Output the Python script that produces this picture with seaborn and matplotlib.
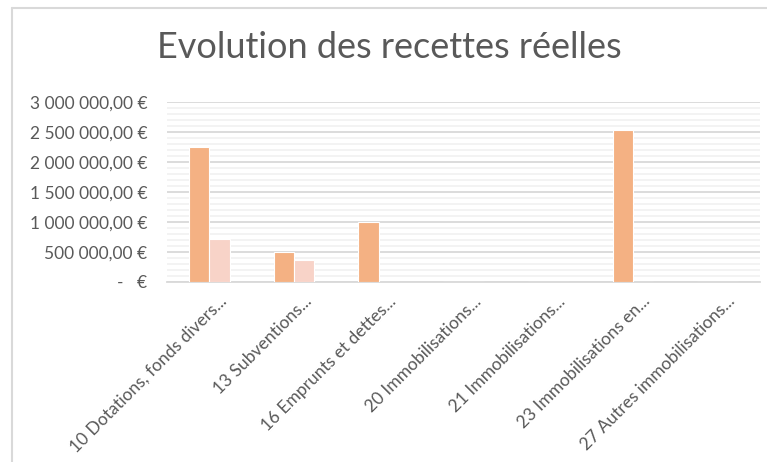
import matplotlib
matplotlib.use("Agg")
import matplotlib.pyplot as plt
import matplotlib.transforms as mtransforms
from matplotlib.lines import Line2D
from matplotlib.ticker import FuncFormatter, MultipleLocator
import pandas as pd
import seaborn as sns

# data
categories = [
    "10 Dotations, fonds divers...",
    "13 Subventions...",
    "16 Emprunts et dettes...",
    "20 Immobilisations...",
    "21 Immobilisations...",
    "23 Immobilisations en...",
    "27 Autres immobilisations...",
]
serie_1 = [2250000, 495000, 995000, 0, 0, 2530000, 0]
serie_2 = [717000, 360000, 0, 0, 0, 0, 0]
series_names = ["Série 1", "Série 2"]
colors = ["#F4B183", "#F8D3C8"]

df = pd.DataFrame({
    "categorie": categories * 2,
    "montant": serie_1 + serie_2,
    "serie": [series_names[0]] * len(categories) + [series_names[1]] * len(categories),
})

sns.set_style("white")
plt.rcParams["font.family"] = ["Lato", "DejaVu Sans"]

fig = plt.figure(figsize=(7.67, 4.62), dpi=100)
ax = fig.add_axes([167 / 767, 1 - 282 / 462, (760 - 167) / 767, 180 / 462])

sns.barplot(data=df, x="categorie", y="montant", hue="serie", palette=colors,
            saturation=1, width=0.48, edgecolor="white", linewidth=0.8,
            legend=False, ax=ax, zorder=3)

ax.set_ylim(0, 3000000)
ax.yaxis.set_major_locator(MultipleLocator(500000))
ax.yaxis.set_minor_locator(MultipleLocator(100000))


def euro(v, pos):
    if v == 0:
        return "-   €"
    return f"{v:,.2f}".replace(",", " ").replace(".", ",") + " €"


ax.yaxis.set_major_formatter(FuncFormatter(euro))
ax.grid(axis="y", which="major", color="#D9D9D9", linewidth=1.3, zorder=0)
ax.grid(axis="y", which="minor", color="#F2F2F2", linewidth=1.3, zorder=0)
ax.set_axisbelow(True)

for s in ["top", "right", "left"]:
    ax.spines[s].set_visible(False)
ax.spines["bottom"].set_color("#D9D9D9")
ax.spines["bottom"].set_linewidth(1.3)

ax.set_xlabel("")
ax.set_ylabel("")
ax.tick_params(axis="both", which="both", length=0, colors="#595959", labelsize=12.5)
ax.tick_params(axis="y", pad=14)

offset = mtransforms.ScaledTranslation(15 / 100, -12 / 100, fig.dpi_scale_trans)
for lab in ax.get_xticklabels():
    lab.set_rotation(45)
    lab.set_rotation_mode("anchor")
    lab.set_ha("right")
    lab.set_va("center")
    lab.set_transform(lab.get_transform() + offset)

fig.text(0.508, 1 - 47 / 462, "Evolution des recettes réelles", ha="center", va="center",
         fontsize=26, color="#595959")

# chart frame (partially visible in the screenshot)
fig.add_artist(Line2D([12 / 767, 12 / 767], [0, 1 - 8 / 462], transform=fig.transFigure,
                      color="#D9D9D9", linewidth=1.5))
fig.add_artist(Line2D([12 / 767, 1], [1 - 8 / 462, 1 - 8 / 462], transform=fig.transFigure,
                      color="#D9D9D9", linewidth=1.5))

fig.savefig("out.png", dpi=100)
